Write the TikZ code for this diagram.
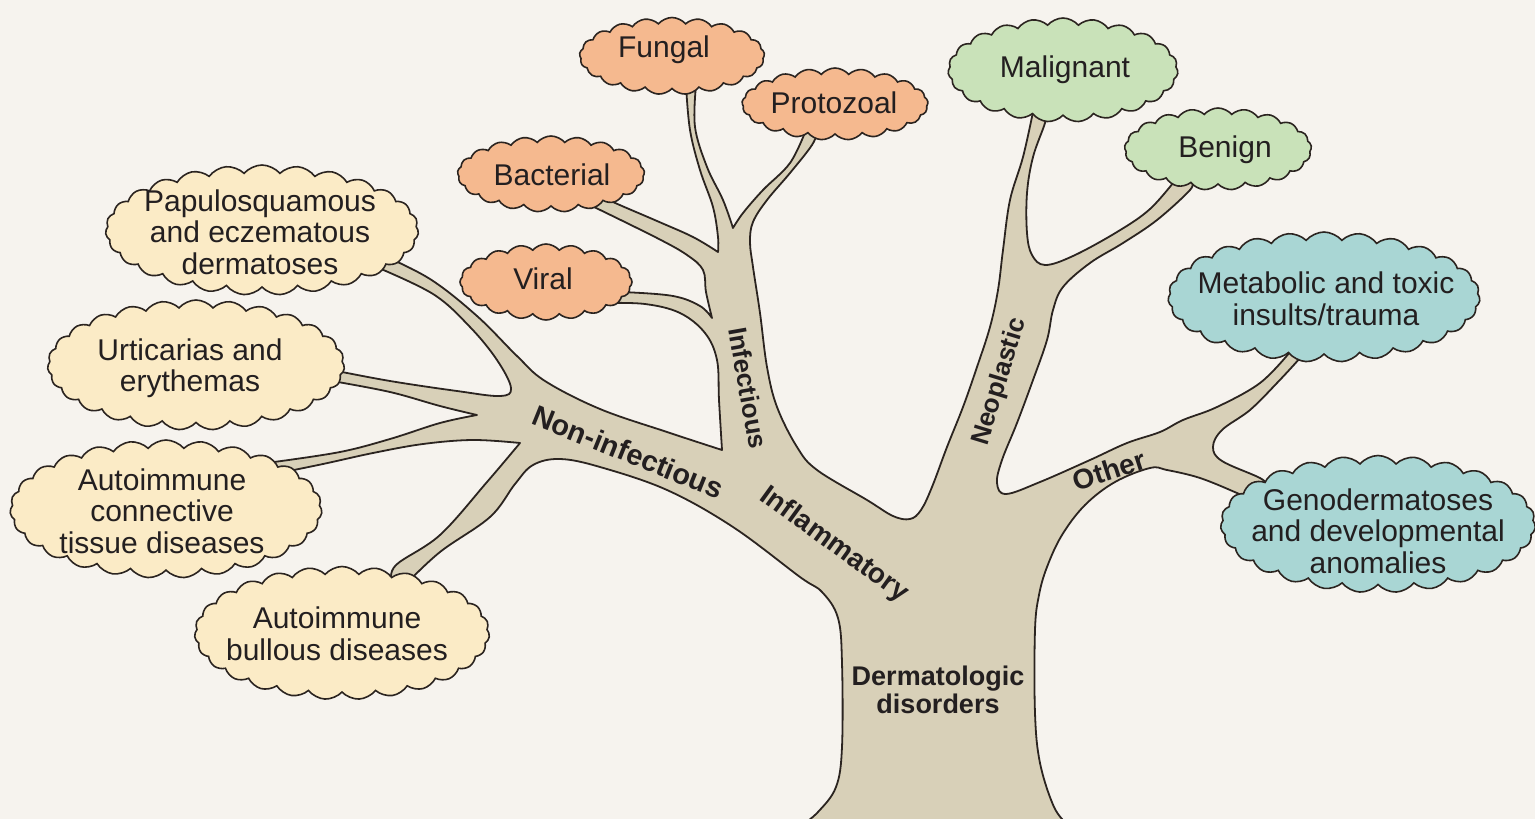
\documentclass[tikz,border=0pt]{standalone}
\usepackage{fontspec}
\setmainfont{Liberation Sans}
\usetikzlibrary{shapes.symbols}
\definecolor{bg}{HTML}{F6F3EE}
\definecolor{treefill}{HTML}{D8D0B8}
\definecolor{outl}{HTML}{2B2420}
\definecolor{txt}{HTML}{231F20}
\definecolor{orng}{HTML}{F5B98F}
\definecolor{ylw}{HTML}{FBEBC6}
\definecolor{grn}{HTML}{C9E2B9}
\definecolor{blu}{HTML}{A9D6D4}
\newcommand\cldfont{\fontsize{30}{31.5}\selectfont}
\newcommand\lblfont{\fontsize{28}{28}\selectfont\bfseries}
\tikzset{
  cloudbase/.style={cloud, cloud puff arc=100, cloud ignores aspect, draw=outl,
    line width=1.6pt, inner sep=0pt},
  cldtext/.style={align=center, font=\cldfont, text=txt, inner sep=0pt},
  treeshape/.style={fill=treefill, draw=outl, line width=1.8pt, line join=round},
  branchlabel/.style={font=\lblfont, text=txt, inner sep=0pt},
}
\begin{document}
\begin{tikzpicture}[x=1pt,y=-1pt]
\fill[bg] (0,0) rectangle (1535,819);
\useasboundingbox (0,0) rectangle (1535,819);

% tree silhouette
\path[treeshape]
 plot[smooth,tension=0.6] coordinates {(802,825) (818,812) (836,787) (842,747) (842,663) (838,618) (822,592) (800,577) (733,527) (667,490) (600,467) (560,459) (533,465) (515,484) (490,517) (440,552) (405,585)}
 -- plot[smooth,tension=0.6] coordinates {(392,582) (396,565) (440,535) (487,482) (520,443)}
 -- plot[smooth,tension=0.6] coordinates {(520,443) (473,440) (423,444) (373,453) (323,464) (274,474)}
 -- plot[smooth,tension=0.6] coordinates {(274,462) (340,452) (390,439) (440,423) (477,415)}
 -- plot[smooth,tension=0.6] coordinates {(477,415) (440,406) (390,392) (332,381)}
 -- plot[smooth,tension=0.6] coordinates {(332,370) (390,381) (457,391) (500,396) (511,388) (497,360) (470,327) (433,294) (374,266)}
 -- plot[smooth,tension=0.6] coordinates {(380,254) (430,279) (477,316) (517,356) (545,381) (600,409) (667,432) (722,450)}
 -- plot[smooth,tension=0.6] coordinates {(722,450) (719,400) (717,360) (705,333) (680,313) (645,304) (603,303)}
 -- plot[smooth,tension=0.6] coordinates {(603,292) (623,292) (673,296) (700,306) (712,318)}
 -- plot[smooth,tension=0.6] coordinates {(712,318) (706,292) (703,270) (687,255) (657,238) (592,206)}
 -- plot[smooth,tension=0.6] coordinates {(598,194) (613,202) (657,221) (693,237) (718,252)}
 -- plot[smooth,tension=0.6] coordinates {(718,252) (718,237) (713,207) (700,170) (690,130) (686,85)}
 -- plot[smooth,tension=0.6] coordinates {(696,85) (695,127) (707,167) (723,200) (733,228)}
 -- plot[smooth,tension=0.6] coordinates {(733,228) (743,213) (763,190) (790,163) (806,130)}
 -- plot[smooth,tension=0.6] coordinates {(818,130) (812,145) (790,173) (767,200) (753,222) (750,242) (753,267) (760,313) (767,367) (777,407) (797,447) (817,470) (867,500) (893,516) (910,519) (921,510) (932,487) (947,447) (963,407) (977,367) (990,327) (998,290) (1003,250) (1010,200) (1023,157) (1033,112)}
 -- plot[smooth,tension=0.6] coordinates {(1046,112) (1045,123) (1033,157) (1027,193) (1027,233) (1032,255) (1045,265) (1073,256) (1117,232) (1150,209) (1177,178)}
 -- plot[smooth,tension=0.6] coordinates {(1191,182) (1190,190) (1157,220) (1123,243) (1090,263) (1063,287) (1053,310) (1047,340) (1033,380) (1017,423) (1002,460) (997,483) (1006,494) (1040,482) (1090,460) (1127,443) (1160,432) (1183,420) (1217,407) (1260,383) (1290,352)}
 -- plot[smooth,tension=0.6] coordinates {(1304,352) (1300,358) (1277,383) (1250,410) (1222,430) (1213,447) (1222,461) (1260,478) (1268,486)}
 -- plot[smooth,tension=0.6] coordinates {(1256,502) (1237,493) (1200,478) (1167,470) (1150,468) (1115,482) (1085,505) (1062,535) (1047,567) (1039,595) (1035,630) (1035,713) (1040,763) (1054,807) (1068,825)}
 -- cycle;

% clouds
\node[cloudbase, fill=orng, cloud puffs=21, minimum width=185pt, minimum height=77pt] (fungal) at (672,56) {};
\node[cloudbase, fill=orng, cloud puffs=21, minimum width=186pt, minimum height=72pt] (proto) at (835,104) {};
\node[cloudbase, fill=orng, cloud puffs=21, minimum width=187pt, minimum height=76pt] (bact) at (551,174) {};
\node[cloudbase, fill=orng, cloud puffs=20, minimum width=172pt, minimum height=76pt] (viral) at (546,282) {};
\node[cloudbase, fill=grn, cloud puffs=23, minimum width=230pt, minimum height=104pt] (malig) at (1063,70) {};
\node[cloudbase, fill=grn, cloud puffs=21, minimum width=187pt, minimum height=82pt] (benign) at (1218,149) {};
\node[cloudbase, fill=blu, cloud puffs=27, minimum width=312pt, minimum height=130pt] (metab) at (1324,297) {};
\node[cloudbase, fill=blu, cloud puffs=27, minimum width=315pt, minimum height=137pt] (geno) at (1378,524) {};
\node[cloudbase, fill=ylw, cloud puffs=27, minimum width=313pt, minimum height=130pt] (papulo) at (262,230) {};
\node[cloudbase, fill=ylw, cloud puffs=27, minimum width=297pt, minimum height=130pt] (urtic) at (196,365) {};
\node[cloudbase, fill=ylw, cloud puffs=27, minimum width=312pt, minimum height=138pt] (connect) at (166,509) {};
\node[cloudbase, fill=ylw, cloud puffs=27, minimum width=295pt, minimum height=133pt] (bullous) at (342,633) {};

% cloud texts
\node[cldtext] (fungalt) at (664,50) {Fungal};
\node[cldtext] (protot) at (834,103) {Protozoal};
\node[cldtext] (bactt) at (552,175) {Bacterial};
\node[cldtext] (viralt) at (543,279) {Viral};
\node[cldtext] (maligt) at (1065,70) {Malignant};
\node[cldtext] (benignt) at (1225,150) {Benign};
\node[cldtext] (metabt) at (1326,299) {Metabolic and toxic\\insults/trauma};
\node[cldtext] (genot) at (1378,531) {Genodermatoses\\and developmental\\anomalies};
\node[cldtext] (papulot) at (260,232) {Papulosquamous\\and eczematous\\dermatoses};
\node[cldtext] (urtict) at (190,368) {Urticarias and\\erythemas};
\node[cldtext] (connectt) at (162,511) {Autoimmune\\connective\\tissue diseases};
\node[cldtext] (bulloust) at (337,634) {Autoimmune\\bullous diseases};

% branch labels
\node[branchlabel, rotate=-22, font=\fontsize{29}{29}\selectfont\bfseries] (noninf) at (628,452) {Non-infectious};
\node[branchlabel, rotate=-80, font=\fontsize{26}{26}\selectfont\bfseries] (infect) at (748,388) {Infectious};
\node[branchlabel, rotate=-36] (inflam) at (834,545) {Inflammatory};
\node[branchlabel, rotate=73, font=\fontsize{26}{26}\selectfont\bfseries] (neopl) at (1000,382) {Neoplastic};
\node[branchlabel, rotate=18] (other) at (1109,470) {Other};
\node[branchlabel, align=center, font=\fontsize{27}{28}\selectfont\bfseries] (root) at (938,690) {Dermatologic\\disorders};
\end{tikzpicture}
\end{document}
